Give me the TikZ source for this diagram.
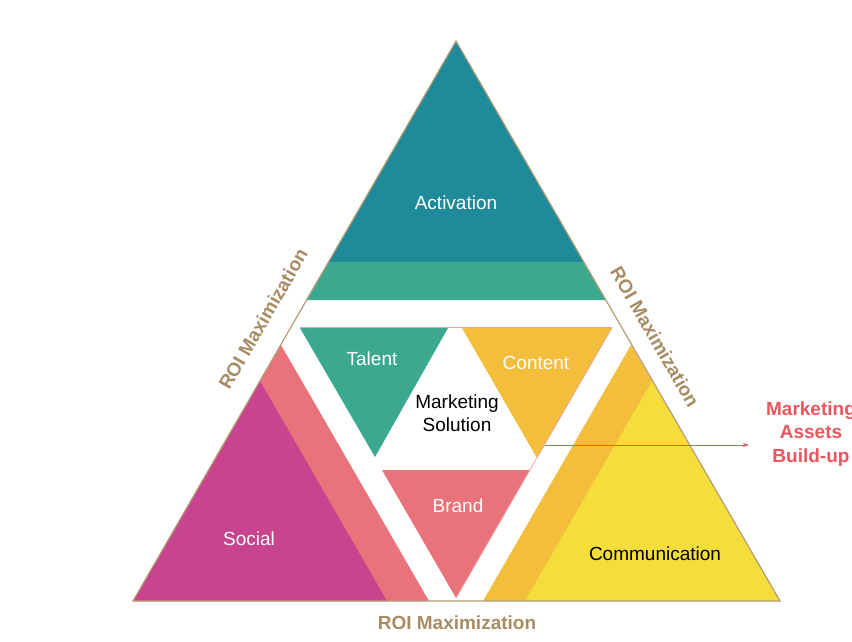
\documentclass[tikz,border=0pt]{standalone}
\usepackage{fontspec}
\setmainfont{Liberation Sans}
\usetikzlibrary{arrows.meta}
\definecolor{darkteal}{HTML}{1F8B9A}
\definecolor{greenteal}{HTML}{3BA890}
\definecolor{coral}{HTML}{E8737A}
\definecolor{magenta}{HTML}{C8448E}
\definecolor{orangey}{HTML}{F3BE3C}
\definecolor{yellowy}{HTML}{F5DD3B}
\definecolor{outlinetan}{HTML}{B49C74}
\definecolor{labeltan}{HTML}{A88C64}
\definecolor{redtext}{HTML}{E8575E}
\definecolor{pinkline}{HTML}{F0A0A0}
\tikzset{
  lbl/.style={inner sep=0pt, font=\fontsize{19}{23}\selectfont},
  whitelbl/.style={lbl, text=white},
  blacklbl/.style={lbl, text=black, align=center},
  roi/.style={inner sep=0pt, font=\fontsize{19}{23}\selectfont\bfseries, text=labeltan},
}
\begin{document}
\begin{tikzpicture}[x=1pt,y=-1pt]
\useasboundingbox (0,0) rectangle (852,641);
\clip (0,0) rectangle (852,641);
\fill[white] (0,0) rectangle (852,641);

% top triangle (Activation)
\fill[darkteal] (456,41) -- (328.4,262) -- (583.6,262) -- cycle;
\fill[greenteal] (328.4,262) -- (583.6,262) -- (606,300) -- (306,300) -- cycle;

% lower-left triangle (Social)
\fill[coral] (133,601) -- (281,345) -- (429,601) -- cycle;
\fill[magenta] (133,601) -- (260,381) -- (387,601) -- cycle;

% lower-right triangle (Communication)
\fill[orangey] (483,601) -- (631,345) -- (780,601) -- cycle;
\fill[yellowy] (525,601) -- (652,381) -- (780,601) -- cycle;

% inner inverted triangle
\fill[greenteal] (300,328) -- (448,328) -- (375,457) -- cycle;
\fill[orangey] (462,328) -- (612,328) -- (537,458) -- cycle;
\fill[coral] (382,470) -- (530,470) -- (456,598) -- cycle;
\draw[pinkline, line width=0.8pt] (300,327.5) -- (612,327.5) -- (456,598);

% outline of the big triangle
\draw[outlinetan, line width=1.2pt, line join=miter] (456,41) -- (133,601) -- (780,601) -- cycle;

% labels
\node[whitelbl] (act) at (456,203) {Activation};
\node[whitelbl] (tal) at (372,359) {Talent};
\node[whitelbl] (con) at (536,363) {Content};
\node[blacklbl] (sol) at (457,413) {Marketing\\Solution};
\node[whitelbl] (bra) at (458,506) {Brand};
\node[whitelbl] (soc) at (249,539) {Social};
\node[lbl, text=black] (com) at (655,554) {Communication};

\node[roi, rotate=60] (roil) at (263,319) {ROI Maximization};
\node[roi, rotate=-60] (roir) at (655,337) {ROI Maximization};
\node[roi] (roib) at (457,623) {ROI Maximization};

\node[inner sep=0pt, align=center, text=redtext, font=\fontsize{19}{23.5}\selectfont\bfseries] (mab) at (811,434) {Marketing\\Assets\\Build-up};

% arrow
\coordinate (arrs) at (545,445);
\coordinate (arre) at (749,445);
\draw[redtext, line width=0.7pt, -{Stealth[length=6pt,width=4pt]}] (arrs) -- (arre);
\end{tikzpicture}
\end{document}
